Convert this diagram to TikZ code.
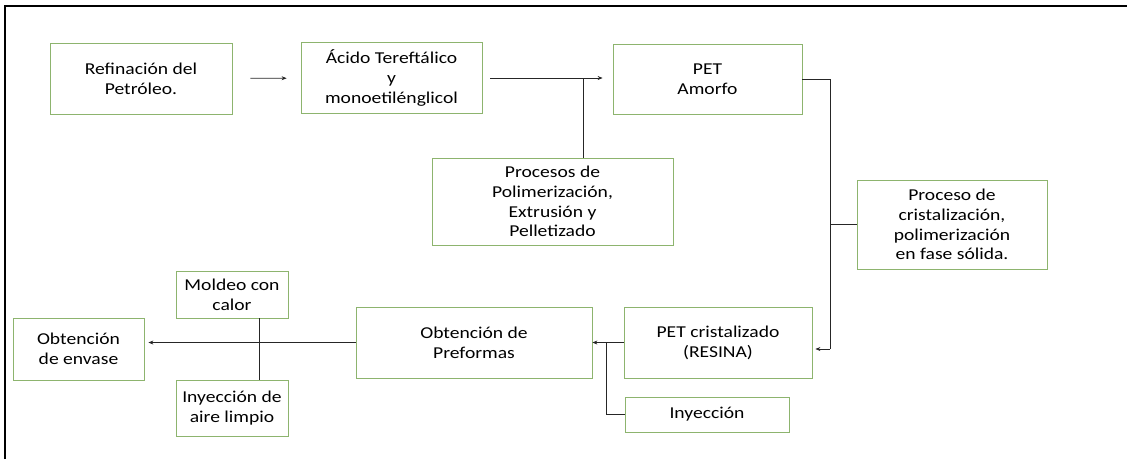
\documentclass[tikz,border=0pt]{standalone}
\usepackage{fontspec}
\setmainfont{Carlito}[FakeStretch=1.18]
\usepackage{xcolor}
\usepackage{tikz}
\usetikzlibrary{shapes,arrows,arrows.meta,positioning,fit,calc}

\definecolor{boxgreen}{RGB}{141,180,110}
\tikzset{
    box/.style={rectangle, draw=boxgreen, line width=0.8pt, align=center, inner sep=0pt},
    link/.style={draw=black!85, line width=0.7pt},
    >={Stealth[length=5pt,width=4pt]}
}

\begin{document}
\begin{tikzpicture}[x=1pt, y=-1pt, font=\fontsize{16.6}{19.8}\selectfont]
    \useasboundingbox (0,0) rectangle (1127,459);
    \draw [line width=1.6pt] (5,459) -- (5,6) -- (1127,6);

    % upper row
    \node (refin) [box, minimum width=182pt, minimum height=71pt] at (141,78.5) {Refinación del\\Petróleo.};
    \node (acido) [box, minimum width=181pt, minimum height=71pt] at (391.5,78) {Ácido Tereftálico\\y\\monoetilénglicol};
    \node (amorfo) [box, minimum width=189pt, minimum height=70pt] at (707.5,79) {PET\\Amorfo};
    \node (procesos) [box, minimum width=241pt, minimum height=87pt] at (552.5,201.5) {Procesos de\\Polimerización,\\Extrusión y\\Pelletizado};
    \node (cristal) [box, minimum width=190pt, minimum height=89pt] at (952,224.5) {Proceso de\\cristalización,\\polimerización\\en fase sólida.};

    % lower row
    \node (resina) [box, minimum width=188pt, minimum height=71pt] at (718,342.5) {PET cristalizado\\(RESINA)};
    \node (inyec) [box, minimum width=164pt, minimum height=35pt] at (707,414.5) {Inyección};
    \node (prefor) [box, minimum width=236pt, minimum height=71pt] at (474,342.5) {Obtención de\\Preformas};
    \node (moldeo) [box, minimum width=112pt, minimum height=47pt] at (232,294.5) {Moldeo con\\calor};
    \node (aire) [box, minimum width=112pt, minimum height=56pt] at (232,408) {Inyección de\\aire limpio};
    \node (envase) [box, minimum width=131pt, minimum height=62pt] at (78.5,349) {Obtención\\de envase};

    \coordinate (join) at (583,78);
    \coordinate (bend) at (830,349);
    \coordinate (split) at (606,343);

    \draw [link, ->, shorten <=18pt, shorten >=14pt] (refin) -- (acido);
    \draw [link, ->, shorten <=8pt, shorten >=10pt] (acido.east) -- (acido.east -| amorfo.west);
    \draw [link] (procesos.north -| join) -- (join);
    \draw [link] (amorfo.east) -| (bend);
    \draw [link, ->, shorten >=3pt] (bend) -- (bend -| resina.east);
    \draw [link] (cristal.west) -- (cristal.west -| bend);
    \draw [link, ->] (resina.west) -- (prefor.east);
    \draw [link] (inyec.west) -| (split);
    \draw [link, ->, shorten >=4pt] (prefor.west) -- (prefor.west -| envase.east);
    \draw [link] ([xshift=27pt]moldeo.south) -- ([xshift=27pt]aire.north);
\end{tikzpicture}
\end{document}
